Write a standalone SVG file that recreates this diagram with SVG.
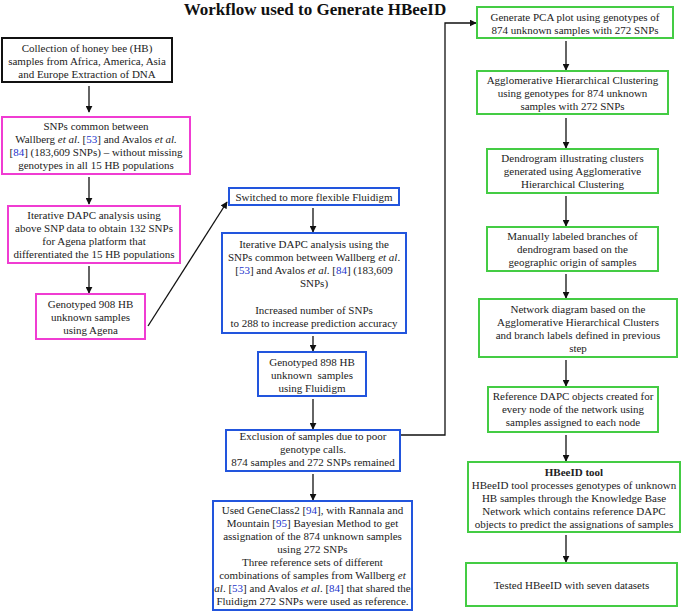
<svg xmlns="http://www.w3.org/2000/svg" width="685" height="613" viewBox="0 0 685 613">
<defs>
<marker id="ah" viewBox="0 0 10 10" refX="9" refY="5" markerWidth="7" markerHeight="7" markerUnits="userSpaceOnUse" orient="auto">
<path d="M0,0 L10,5 L0,10 z" fill="#111"/>
</marker>
<style>
text{font-family:"Liberation Serif","Times New Roman",serif;font-size:11px;fill:#222;text-anchor:middle}
.title{font-size:17px;font-weight:bold;fill:#111}
.b{font-weight:bold}
.i{font-style:italic}
.c{fill:#2233cc}
rect{fill:#fff;stroke-width:2}
.k{stroke:#111}
.p{stroke:#f03cd2}
.u{stroke:#2255dd}
.g{stroke:#44cc44}
.con path,.con line{stroke:#111;stroke-width:1.3;fill:none;marker-end:url(#ah)}
</style>
</defs>
<rect x="0" y="0" width="685" height="613" style="fill:#fff;stroke:none"/>
<text class="title" x="315" y="15">Workflow used to Generate HBeeID</text>

<g class="con">
<line x1="89" y1="86" x2="89" y2="112"/>
<line x1="89" y1="177" x2="89" y2="204"/>
<line x1="89" y1="266" x2="89" y2="293"/>
<line x1="148" y1="326" x2="227" y2="202"/>
<line x1="313" y1="208" x2="313" y2="232"/>
<line x1="313" y1="336" x2="313" y2="351"/>
<line x1="313" y1="399" x2="313" y2="429"/>
<line x1="313" y1="474" x2="313" y2="500"/>
<path d="M400,435 H445 V23 H476"/>
<line x1="566" y1="41" x2="566" y2="70"/>
<line x1="566" y1="118" x2="566" y2="148"/>
<line x1="566" y1="196" x2="566" y2="226"/>
<line x1="566" y1="274" x2="566" y2="298"/>
<line x1="566" y1="360" x2="566" y2="386"/>
<line x1="566" y1="435" x2="566" y2="461"/>
<line x1="566" y1="535" x2="566" y2="562"/>
</g>

<g id="n1"><rect class="k" x="2" y="38" width="170" height="44"/>
<text x="87" y="52">Collection of honey bee (HB)</text>
<text x="87" y="65">samples from Africa, America, Asia</text>
<text x="87" y="78">and Europe Extraction of DNA</text></g>

<g id="n2"><rect class="p" x="2" y="117" width="188" height="57"/>
<text x="96" y="130">SNPs common between</text>
<text x="96" y="143">Wallberg <tspan class="i">et al</tspan>. [<tspan class="c">53</tspan>] and Avalos <tspan class="i">et al.</tspan></text>
<text x="96" y="156">[<tspan class="c">84</tspan>] (183,609 SNPs) – without missing</text>
<text x="96" y="169">genotypes in all 15 HB populations</text></g>

<g id="n3"><rect class="p" x="8" y="206" width="172" height="57"/>
<text x="94" y="219">Iterative DAPC analysis using</text>
<text x="94" y="232">above SNP data to obtain 132 SNPs</text>
<text x="94" y="245">for Agena platform that</text>
<text x="94" y="258">differentiated the 15 HB populations</text></g>

<g id="n4"><rect class="p" x="36" y="294" width="109" height="45"/>
<text x="90.5" y="308">Genotyped 908 HB</text>
<text x="90.5" y="321">unknown samples</text>
<text x="90.5" y="334">using Agena</text></g>

<g id="n5"><rect class="u" x="229" y="188" width="170" height="17"/>
<text x="314" y="201">Switched to more flexible Fluidigm</text></g>

<g id="n6"><rect class="u" x="222" y="233" width="184" height="100"/>
<text x="314" y="248">Iterative DAPC analysis using the</text>
<text x="314" y="261">SNPs common between Wallberg <tspan class="i">et al</tspan>.</text>
<text x="314" y="274">[<tspan class="c">53</tspan>] and Avalos <tspan class="i">et al</tspan>. [<tspan class="c">84</tspan>] (183,609</text>
<text x="314" y="287">SNPs)</text>
<text x="314" y="314">Increased number of SNPs</text>
<text x="314" y="327">to 288 to increase prediction accuracy</text></g>

<g id="n7"><rect class="u" x="258" y="352" width="108" height="44"/>
<text x="312" y="366">Genotyped 898 HB</text>
<text x="312" y="379" xml:space="preserve">unknown  samples</text>
<text x="312" y="392">using Fluidigm</text></g>

<g id="n8"><rect class="u" x="226" y="430" width="174" height="41"/>
<text x="313" y="440">Exclusion of samples due to poor</text>
<text x="313" y="453">genotype calls.</text>
<text x="313" y="466">874 samples and 272 SNPs remained</text></g>

<g id="n9"><rect class="u" x="213" y="501" width="199" height="109"/>
<text x="312.5" y="514">Used GeneClass2 [<tspan class="c">94</tspan>], with Rannala and</text>
<text x="312.5" y="527">Mountain [<tspan class="c">95</tspan>] Bayesian Method to get</text>
<text x="312.5" y="540">assignation of the 874 unknown samples</text>
<text x="312.5" y="553">using 272 SNPs</text>
<text x="312.5" y="566">Three reference sets of different</text>
<text x="312.5" y="579">combinations of samples from Wallberg <tspan class="i">et</tspan></text>
<text x="312.5" y="592"><tspan class="i">al</tspan>. [<tspan class="c">53</tspan>] and Avalos <tspan class="i">et al</tspan>. [<tspan class="c">84</tspan>] that shared the</text>
<text x="312.5" y="605">Fluidigm 272 SNPs were used as reference.</text></g>

<g id="r1"><rect class="g" x="477" y="7" width="196" height="31"/>
<text x="575" y="21">Generate PCA plot using genotypes of</text>
<text x="575" y="34">874 unknown samples with 272 SNPs</text></g>

<g id="r2"><rect class="g" x="477" y="71" width="191" height="43"/>
<text x="572.5" y="84">Agglomerative Hierarchical Clustering</text>
<text x="572.5" y="97">using genotypes for 874 unknown</text>
<text x="572.5" y="110">samples with 272 SNPs</text></g>

<g id="r3"><rect class="g" x="487" y="149" width="171" height="44"/>
<text x="572.5" y="162">Dendrogram illustrating clusters</text>
<text x="572.5" y="175">generated using Agglomerative</text>
<text x="572.5" y="188">Hierarchical Clustering</text></g>

<g id="r4"><rect class="g" x="487" y="227" width="171" height="44"/>
<text x="572.5" y="240">Manually labeled branches of</text>
<text x="572.5" y="253">dendrogram based on the</text>
<text x="572.5" y="266">geographic origin of samples</text></g>

<g id="r5"><rect class="g" x="479" y="299" width="198" height="58"/>
<text x="578" y="313">Network diagram based on the</text>
<text x="578" y="326">Agglomerative Hierarchical Clusters</text>
<text x="578" y="339">and branch labels defined in previous</text>
<text x="578" y="352">step</text></g>

<g id="r6"><rect class="g" x="488" y="387" width="170" height="45"/>
<text x="573" y="400">Reference DAPC objects created for</text>
<text x="573" y="413">every node of the network using</text>
<text x="573" y="426">samples assigned to each node</text></g>

<g id="r7"><rect class="g" x="468" y="462" width="212" height="70"/>
<text class="b" x="574" y="476">HBeeID tool</text>
<text x="574" y="489">HBeeID tool processes genotypes of unknown</text>
<text x="574" y="502">HB samples through the Knowledge Base</text>
<text x="574" y="515">Network which contains reference DAPC</text>
<text x="574" y="528">objects to predict the assignations of samples</text></g>

<g id="r8"><rect class="g" x="466" y="563" width="211" height="43"/>
<text x="571.5" y="589">Tested HBeeID with seven datasets</text></g>
</svg>
